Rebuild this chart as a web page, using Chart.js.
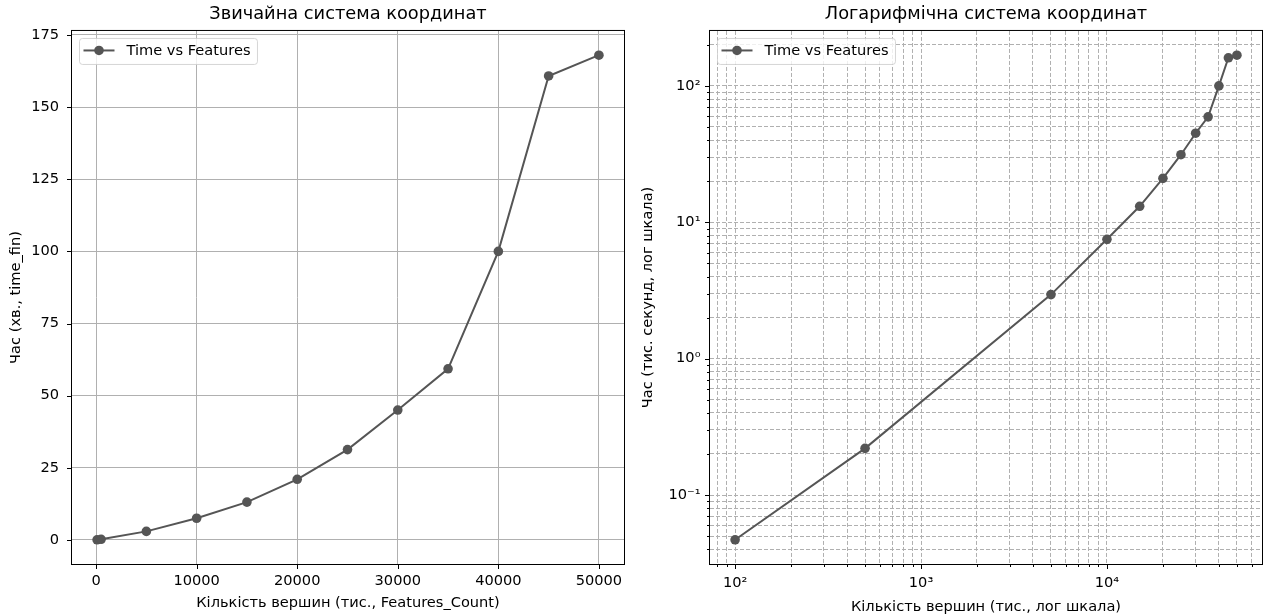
<!DOCTYPE html>
<html><head><meta charset="utf-8">
<script src="https://cdn.jsdelivr.net/npm/chart.js@4.4.1/dist/chart.umd.min.js"></script>
<style>
html,body{margin:0;padding:0;background:#fff;width:1267px;height:616px;overflow:hidden;}
canvas{position:absolute;top:0;}
#c1{left:0;}
#c2{left:634px;}
</style></head><body>
<canvas id="c1" width="634" height="616"></canvas>
<canvas id="c2" width="633" height="616"></canvas>
<script>
// ---- data ----
const features = [100, 500, 5000, 10000, 15000, 20000, 25000, 30000, 35000, 40000, 45000, 50000];
const timeValues = [0.047, 0.22, 2.95, 7.5, 13.1, 21, 31.3, 45, 59.3, 100, 160.8, 168];
const seriesLabel = 'Time vs Features';

// ---- tick labels / positions ----
const linXTicks = [0, 10000, 20000, 30000, 40000, 50000];
const linYTicks = [0, 25, 50, 75, 100, 125, 150, 175];
const logXTicks = [80, 90, 100, 200, 300, 400, 500, 600, 700, 800, 900,
  1000, 2000, 3000, 4000, 5000, 6000, 7000, 8000, 9000,
  10000, 20000, 30000, 40000, 50000, 60000];
const logXMajor = [100, 1000, 10000];
const logXLabels = ['10\u00B2', '10\u00B3', '10\u2074'];
const logYTicks = [0.04, 0.05, 0.06, 0.07, 0.08, 0.09,
  0.1, 0.2, 0.3, 0.4, 0.5, 0.6, 0.7, 0.8, 0.9,
  1, 2, 3, 4, 5, 6, 7, 8, 9,
  10, 20, 30, 40, 50, 60, 70, 80, 90,
  100, 200];
const logYMajor = [0.1, 1, 10, 100];
const logYLabels = ['10\u207B\u00B9', '10\u2070', '10\u00B9', '10\u00B2'];

// ---- text ----
const titleLinear = 'Звичайна система координат';
const titleLog = 'Логарифмічна система координат';
const xLabelLinear = 'Кількість вершин (тис., Features_Count)';
const yLabelLinear = 'Час (хв., time_fin)';
const xLabelLog = 'Кількість вершин (тис., лог шкала)';
const yLabelLog = 'Час (тис. секунд, лог шкала)';

const FONT = "'DejaVu Sans', sans-serif";
const FS = 14.6;
Chart.defaults.font.family = FONT;
Chart.defaults.color = '#000';

const LINE = '#555555';
const points = features.map((f, i) => ({x: f, y: timeValues[i]}));

function linRange(arr) {
  const mn = Math.min(...arr), mx = Math.max(...arr), m = (mx - mn) * 0.05;
  return [mn - m, mx + m];
}
function logRange(arr) {
  const mn = Math.log10(Math.min(...arr)), mx = Math.log10(Math.max(...arr)), m = (mx - mn) * 0.05;
  return [Math.pow(10, mn - m), Math.pow(10, mx + m)];
}
function findLabel(v, majors, labels) {
  for (let i = 0; i < majors.length; i++) {
    if (Math.abs(v - majors[i]) / majors[i] < 1e-6) return labels[i];
  }
  return '';
}

const framePlugin = {
  id: 'mplFrame',
  afterDatasetsDraw(chart) {
    const ctx = chart.ctx, a = chart.chartArea;
    ctx.save();
    ctx.strokeStyle = '#000';
    ctx.lineWidth = 1;
    ctx.setLineDash([]);
    const xs = chart.scales.x, ys = chart.scales.y;
    ctx.beginPath();
    xs.ticks.forEach(t => {
      const px = Math.round(xs.getPixelForValue(t.value)) + 0.5;
      const len = t.label ? 5 : 3;
      ctx.moveTo(px, a.bottom);
      ctx.lineTo(px, a.bottom + len);
    });
    ys.ticks.forEach(t => {
      const py = Math.round(ys.getPixelForValue(t.value)) + 0.5;
      const len = t.label ? 5 : 3;
      ctx.moveTo(a.left - len, py);
      ctx.lineTo(a.left, py);
    });
    ctx.stroke();
    ctx.strokeRect(a.left - 0.5, a.top - 0.5, a.right - a.left + 1, a.bottom - a.top + 1);
    ctx.restore();
  }
};

const legendPlugin = {
  id: 'mplLegend',
  afterDraw(chart) {
    const ctx = chart.ctx, a = chart.chartArea;
    const ds = chart.data.datasets[0];
    ctx.save();
    ctx.font = FS + 'px ' + FONT;
    const tw = ctx.measureText(ds.label).width;
    const x0 = a.left + 7.5, y0 = a.top + 7.5;
    const w = 47 + tw + 7, h = 26, r = 3;
    ctx.beginPath();
    ctx.moveTo(x0 + r, y0);
    ctx.lineTo(x0 + w - r, y0);
    ctx.arcTo(x0 + w, y0, x0 + w, y0 + r, r);
    ctx.lineTo(x0 + w, y0 + h - r);
    ctx.arcTo(x0 + w, y0 + h, x0 + w - r, y0 + h, r);
    ctx.lineTo(x0 + r, y0 + h);
    ctx.arcTo(x0, y0 + h, x0, y0 + h - r, r);
    ctx.lineTo(x0, y0 + r);
    ctx.arcTo(x0, y0, x0 + r, y0, r);
    ctx.closePath();
    ctx.fillStyle = 'rgba(255,255,255,0.8)';
    ctx.fill();
    ctx.strokeStyle = 'rgba(204,204,204,0.8)';
    ctx.lineWidth = 1;
    ctx.stroke();
    const hy = y0 + 12;
    ctx.strokeStyle = ds.borderColor;
    ctx.lineWidth = ds.borderWidth;
    ctx.beginPath();
    ctx.moveTo(x0 + 4, hy);
    ctx.lineTo(x0 + 35, hy);
    ctx.stroke();
    ctx.fillStyle = ds.pointBackgroundColor;
    ctx.beginPath();
    ctx.arc(x0 + 19.5, hy, ds.pointRadius, 0, Math.PI * 2);
    ctx.fill();
    ctx.fillStyle = '#000';
    ctx.textBaseline = 'middle';
    ctx.textAlign = 'left';
    ctx.fillText(ds.label, x0 + 47, y0 + 12.5);
    ctx.restore();
  }
};

function dataset() {
  return {
    label: seriesLabel,
    data: points,
    borderColor: LINE,
    backgroundColor: LINE,
    borderWidth: 2,
    pointRadius: 4.8,
    pointHoverRadius: 4.8,
    pointBackgroundColor: LINE,
    pointBorderWidth: 0,
    tension: 0,
    clip: false
  };
}

function makeChart(id, cfg) {
  const [xmin, xmax] = cfg.log ? logRange(features) : linRange(features);
  const [ymin, ymax] = cfg.log ? logRange(timeValues) : linRange(timeValues);
  const gridOpts = {
    color: '#b0b0b0',
    lineWidth: 1,
    drawTicks: false
  };
  const borderOpts = cfg.log ? {display: false, dash: [4, 2]} : {display: false};
  return new Chart(document.getElementById(id), {
    type: 'line',
    data: {datasets: [dataset()]},
    options: {
      responsive: false,
      animation: false,
      devicePixelRatio: 1,
      layout: {padding: {left: 0, right: cfg.rightPad, top: 0, bottom: 0}},
      plugins: {
        legend: {display: false},
        tooltip: {enabled: false},
        title: {
          display: true,
          text: cfg.title,
          color: '#000',
          font: {size: 17.8, weight: 'normal', family: FONT},
          padding: {top: 3.3, bottom: 6.3},
          fullSize: false
        }
      },
      scales: {
        x: {
          type: cfg.log ? 'logarithmic' : 'linear',
          min: xmin, max: xmax,
          bounds: 'data',
          grid: gridOpts,
          border: borderOpts,
          afterBuildTicks: s => {
            s.ticks = (cfg.log ? logXTicks : linXTicks).map(v => ({value: v}));
          },
          afterFit: s => { s.height = 52; },
          ticks: {
            autoSkip: false, maxRotation: 0, minRotation: 0,
            padding: cfg.xTickPad,
            color: '#000',
            font: {size: FS, family: FONT},
            callback: v => cfg.log ? findLabel(v, logXMajor, logXLabels) : String(v)
          },
          title: {
            display: true, text: cfg.xLabel, color: '#000',
            font: {size: FS, family: FONT},
            padding: {top: 0, bottom: cfg.xTitlePad}
          }
        },
        y: {
          type: cfg.log ? 'logarithmic' : 'linear',
          min: ymin, max: ymax,
          bounds: 'data',
          grid: gridOpts,
          border: borderOpts,
          afterBuildTicks: s => {
            s.ticks = (cfg.log ? logYTicks : linYTicks).map(v => ({value: v}));
          },
          afterFit: s => { s.width = cfg.yWidth; },
          ticks: {
            autoSkip: false,
            padding: cfg.yTickPad,
            color: '#000',
            font: {size: FS, family: FONT},
            callback: v => cfg.log ? findLabel(v, logYMajor, logYLabels) : String(v)
          },
          title: {
            display: true, text: cfg.yLabel, color: '#000',
            font: {size: FS, family: FONT},
            padding: {top: cfg.yTitlePad, bottom: 0}
          }
        }
      }
    },
    plugins: [framePlugin, legendPlugin]
  });
}

makeChart('c1', {
  log: false, title: titleLinear, xLabel: xLabelLinear, yLabel: yLabelLinear,
  rightPad: 10, yWidth: 72, xTickPad: 8.9, yTickPad: 13, xTitlePad: 4.5, yTitlePad: 7.2
});
makeChart('c2', {
  log: true, title: titleLog, xLabel: xLabelLog, yLabel: yLabelLog,
  rightPad: 5, yWidth: 76, xTickPad: 10.5, yTickPad: 9.5, xTitlePad: 0.5, yTitlePad: 5.2
});
</script>
</body></html>
